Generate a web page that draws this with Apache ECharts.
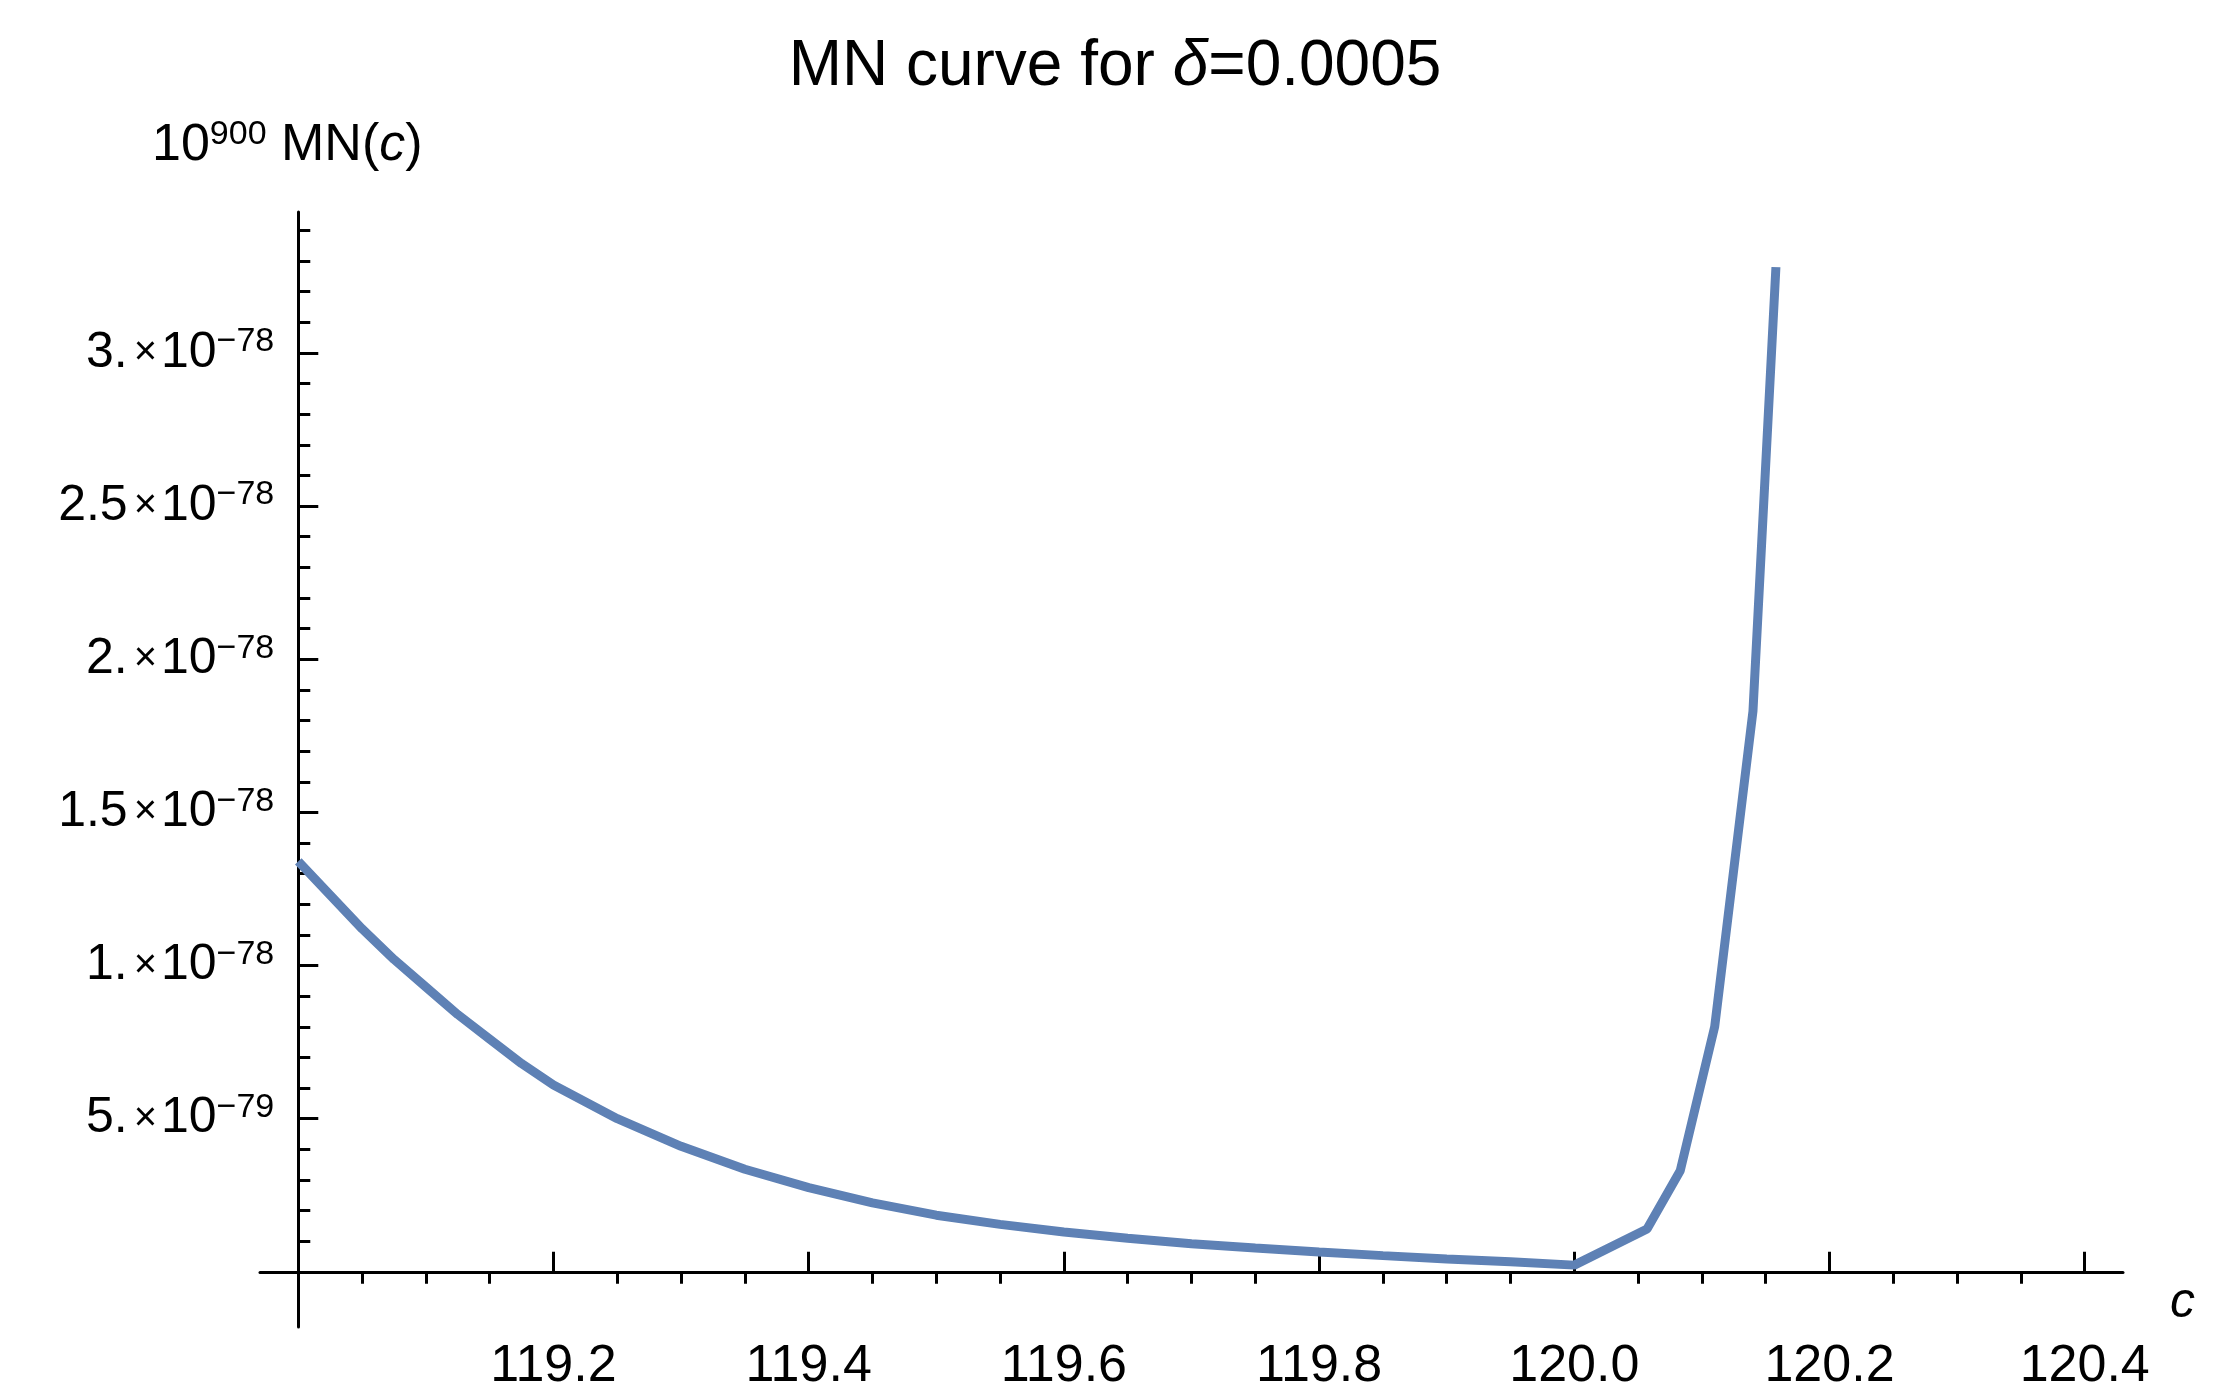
<!DOCTYPE html>
<html><head><meta charset="utf-8">
<script src="https://cdn.jsdelivr.net/npm/echarts@6/dist/echarts.min.js"></script>
<style>html,body{margin:0;padding:0;background:#fff}#c{width:2230px;height:1393px}</style>
</head><body><div id="c"></div>
<script>
// data (y in units of 1e-78)
const cValues = [119.0,119.025,119.05,119.075,119.1,119.125,119.15,119.175,119.2,119.25,119.3,119.35,119.4,119.45,119.5,119.55,119.6,119.65,119.7,119.75,119.8,119.85,119.9,119.95,120.0,120.057,120.083,120.11,120.14,120.158];
const mnValues = [1.34,1.23,1.12,1.02,0.93,0.84,0.76,0.68,0.61,0.50,0.41,0.335,0.275,0.225,0.185,0.155,0.13,0.11,0.092,0.078,0.065,0.053,0.042,0.033,0.022,0.14,0.33,0.80,1.83,3.28];
const xTicks = [119.2,119.4,119.6,119.8,120.0,120.2,120.4];
const xTickLabels = ['119.2','119.4','119.6','119.8','120.0','120.2','120.4'];
const yTicks = [0.5,1,1.5,2,2.5,3];
const yMant = ['5.','1.','1.5','2.','2.5','3.'];
const yExp = ['\u221279','\u221278','\u221278','\u221278','\u221278','\u221278'];

const xmin=118.97, xmax=120.43, ymin=-0.18, ymax=3.46;
const gl=260, gr=107, gt=212, gb=35, gw=2230-gl-gr;
const yOff = -(119-xmin)/(xmax-xmin)*gw;
const xMinor=[]; for(let i=1;i<=28;i++){const v=+(119+i*0.05).toFixed(2); if(Math.abs(v*5-Math.round(v*5))>1e-6) xMinor.push(v);}
const yMinor=[]; for(let i=1;i<=34;i++){const v=+(i*0.1).toFixed(1); if(Math.abs(v*2-Math.round(v*2))>1e-6) yMinor.push(v);}
const F='Liberation Sans, Arial, sans-serif';
const line={lineStyle:{color:'#000',width:3}};
const chart=echarts.init(document.getElementById('c'));
chart.setOption({
 animation:false,
 title:{text:'MN curve for {i|\u03b4}=0.0005',left:'center',top:30,textStyle:{fontFamily:F,fontSize:64,fontWeight:'normal',color:'#000',rich:{i:{fontFamily:F,fontSize:64,fontStyle:'italic',color:'#000'}}}},
 grid:{left:gl,right:gr,top:gt,bottom:gb},
 graphic:[
  {type:'text',left:152,top:118,style:{text:'{a|10}{s|900}{a| MN(}{i|c}{a|)}',rich:{a:{fontFamily:F,fontSize:52,fill:'#000'},s:{fontFamily:F,fontSize:34,fill:'#000',padding:[0,0,22,0]},i:{fontFamily:F,fontSize:52,fontStyle:'italic',fill:'#000'}}}},
  {type:'text',left:2170,top:1278,style:{text:'c',fontFamily:F,fontSize:50,fontStyle:'italic',fill:'#000'}}
 ],
 xAxis:[
  {type:'value',min:xmin,max:xmax,axisLine:Object.assign({onZero:true},line),splitLine:{show:false},
   axisTick:{inside:true,length:20,lineStyle:{color:'#000',width:3},customValues:xTicks},
   axisLabel:{customValues:xTicks,margin:14,fontFamily:F,fontSize:52,color:'#000',formatter:v=>xTickLabels[xTicks.findIndex(t=>Math.abs(t-v)<1e-6)]||''}},
  {type:'value',min:xmin,max:xmax,axisLine:{show:false,onZero:true},splitLine:{show:false},
   axisTick:{inside:true,length:12,lineStyle:{color:'#000',width:3},customValues:xMinor},axisLabel:{show:false}}
 ],
 yAxis:[
  {type:'value',position:'left',min:ymin,max:ymax,offset:yOff,axisLine:Object.assign({onZero:false},line),splitLine:{show:false},
   axisTick:{inside:true,length:20,lineStyle:{color:'#000',width:3},customValues:yTicks},
   axisLabel:{customValues:yTicks,margin:24,formatter:v=>{const k=yTicks.findIndex(t=>Math.abs(t-v)<1e-6);return k<0?'':'{n|'+yMant[k]+'}{t|\u00d7}{n|10}{s|'+yExp[k]+'}';},
    rich:{n:{fontFamily:F,fontSize:50,color:'#000'},t:{fontFamily:F,fontSize:40,color:'#000',padding:[0,4,0,6]},s:{fontFamily:F,fontSize:34,color:'#000',padding:[0,0,22,0]}}}},
  {type:'value',position:'left',min:ymin,max:ymax,offset:yOff,axisLine:{show:false,onZero:false},splitLine:{show:false},
   axisTick:{inside:true,length:12,lineStyle:{color:'#000',width:3},customValues:yMinor},axisLabel:{show:false}}
 ],
 series:[{type:'line',xAxisIndex:0,yAxisIndex:0,data:cValues.map((c,i)=>[c,mnValues[i]]),showSymbol:false,smooth:false,lineStyle:{color:'#5E81B5',width:9},z:5}]
});
</script></body></html>
